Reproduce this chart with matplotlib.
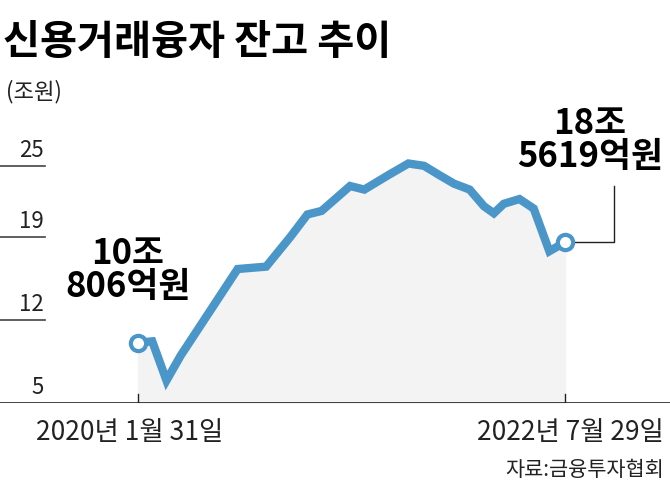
import matplotlib
matplotlib.use("Agg")
import matplotlib.pyplot as plt

plt.rcParams['font.family'] = ['Noto Sans CJK KR', 'DejaVu Sans']

# months since 2020-01-31
months = [0, 1.0, 2.0, 3.0, 7.0, 9.0, 10.7, 11.9, 12.9, 14.9, 15.9, 17.7, 19.0,
          20.1, 21.2, 22.2, 23.3, 24.3, 25.0, 25.7, 26.8, 27.8, 28.9, 30.0]
values = [10.08, 10.2, 6.9, 9.0, 16.3, 16.5, 19.0, 20.9, 21.2, 23.3, 23.0, 24.3, 25.2,
          25.0, 24.2, 23.5, 23.0, 21.6, 21.0, 21.8, 22.2, 21.4, 17.8, 18.56]
yticks = [25, 19, 12]

W, H = 670, 491
fig = plt.figure(figsize=(6.7, 4.91), dpi=100)
ax = fig.add_axes([0, (H - 403) / H, 1, 263 / H])
pxm = 427 / 30
ax.set_xlim(-138 / pxm, (670 - 138) / pxm)
ax.set_ylim(5, 5 + 263 * 7 / 83)
ax.axis('off')

blue = '#4b96c9'
ax.fill_between(months, values, 5, color='#f3f3f3', zorder=1)
ax.plot(months, values, color=blue, lw=6, solid_joinstyle='miter', zorder=3)
ax.plot([months[0], months[-1]], [values[0], values[-1]], 'o', ms=11,
        mfc='white', mec=blue, mew=3, zorder=5)
ax.axhline(5, color='#222', lw=1.2, zorder=4)
for m in (months[0], months[-1]):
    ax.plot([m, m], [5, 5.8], color='#222', lw=1, zorder=4)

xl = ax.get_xlim()[0]
for t in yticks:
    ax.plot([xl, xl + 45 / pxm], [t, t], color='#444', lw=1.2, clip_on=False)
for t in yticks + [5]:
    ax.text(xl + 44 / pxm, t + 0.3, str(t), ha='right', va='bottom', fontsize=16, color='#222')

# connector for end annotation
xr = months[-1] + 49 / pxm
ax.plot([months[-1] + 0.5, xr, xr], [values[-1], values[-1], values[-1] + 56 * 7 / 83],
        color='#222', lw=1, zorder=2)

fig.text(3 / W, 1 - 42 / H, '신용거래융자 잔고 추이', fontsize=29, fontweight='bold', va='center')
fig.text(6 / W, 1 - 92 / H, '(조원)', fontsize=16, va='center', color='#222')
fig.text(128 / W, 1 - 270 / H, '10조\n806억원', fontsize=25, fontweight='bold', ha='center',
         va='center', linespacing=0.95)
fig.text(590 / W, 1 - 140 / H, '18조\n5619억원', fontsize=25, fontweight='bold', ha='center',
         va='center', linespacing=0.95)
fig.text(36 / W, 1 - 432 / H, '2020년 1월 31일', fontsize=19, va='center', color='#222')
fig.text(664 / W, 1 - 432 / H, '2022년 7월 29일', fontsize=19, va='center', ha='right', color='#222')
fig.text(664 / W, 1 - 470 / H, '자료:금융투자협회', fontsize=15, va='center', ha='right', color='#222')

fig.savefig('out.png', dpi=100)
